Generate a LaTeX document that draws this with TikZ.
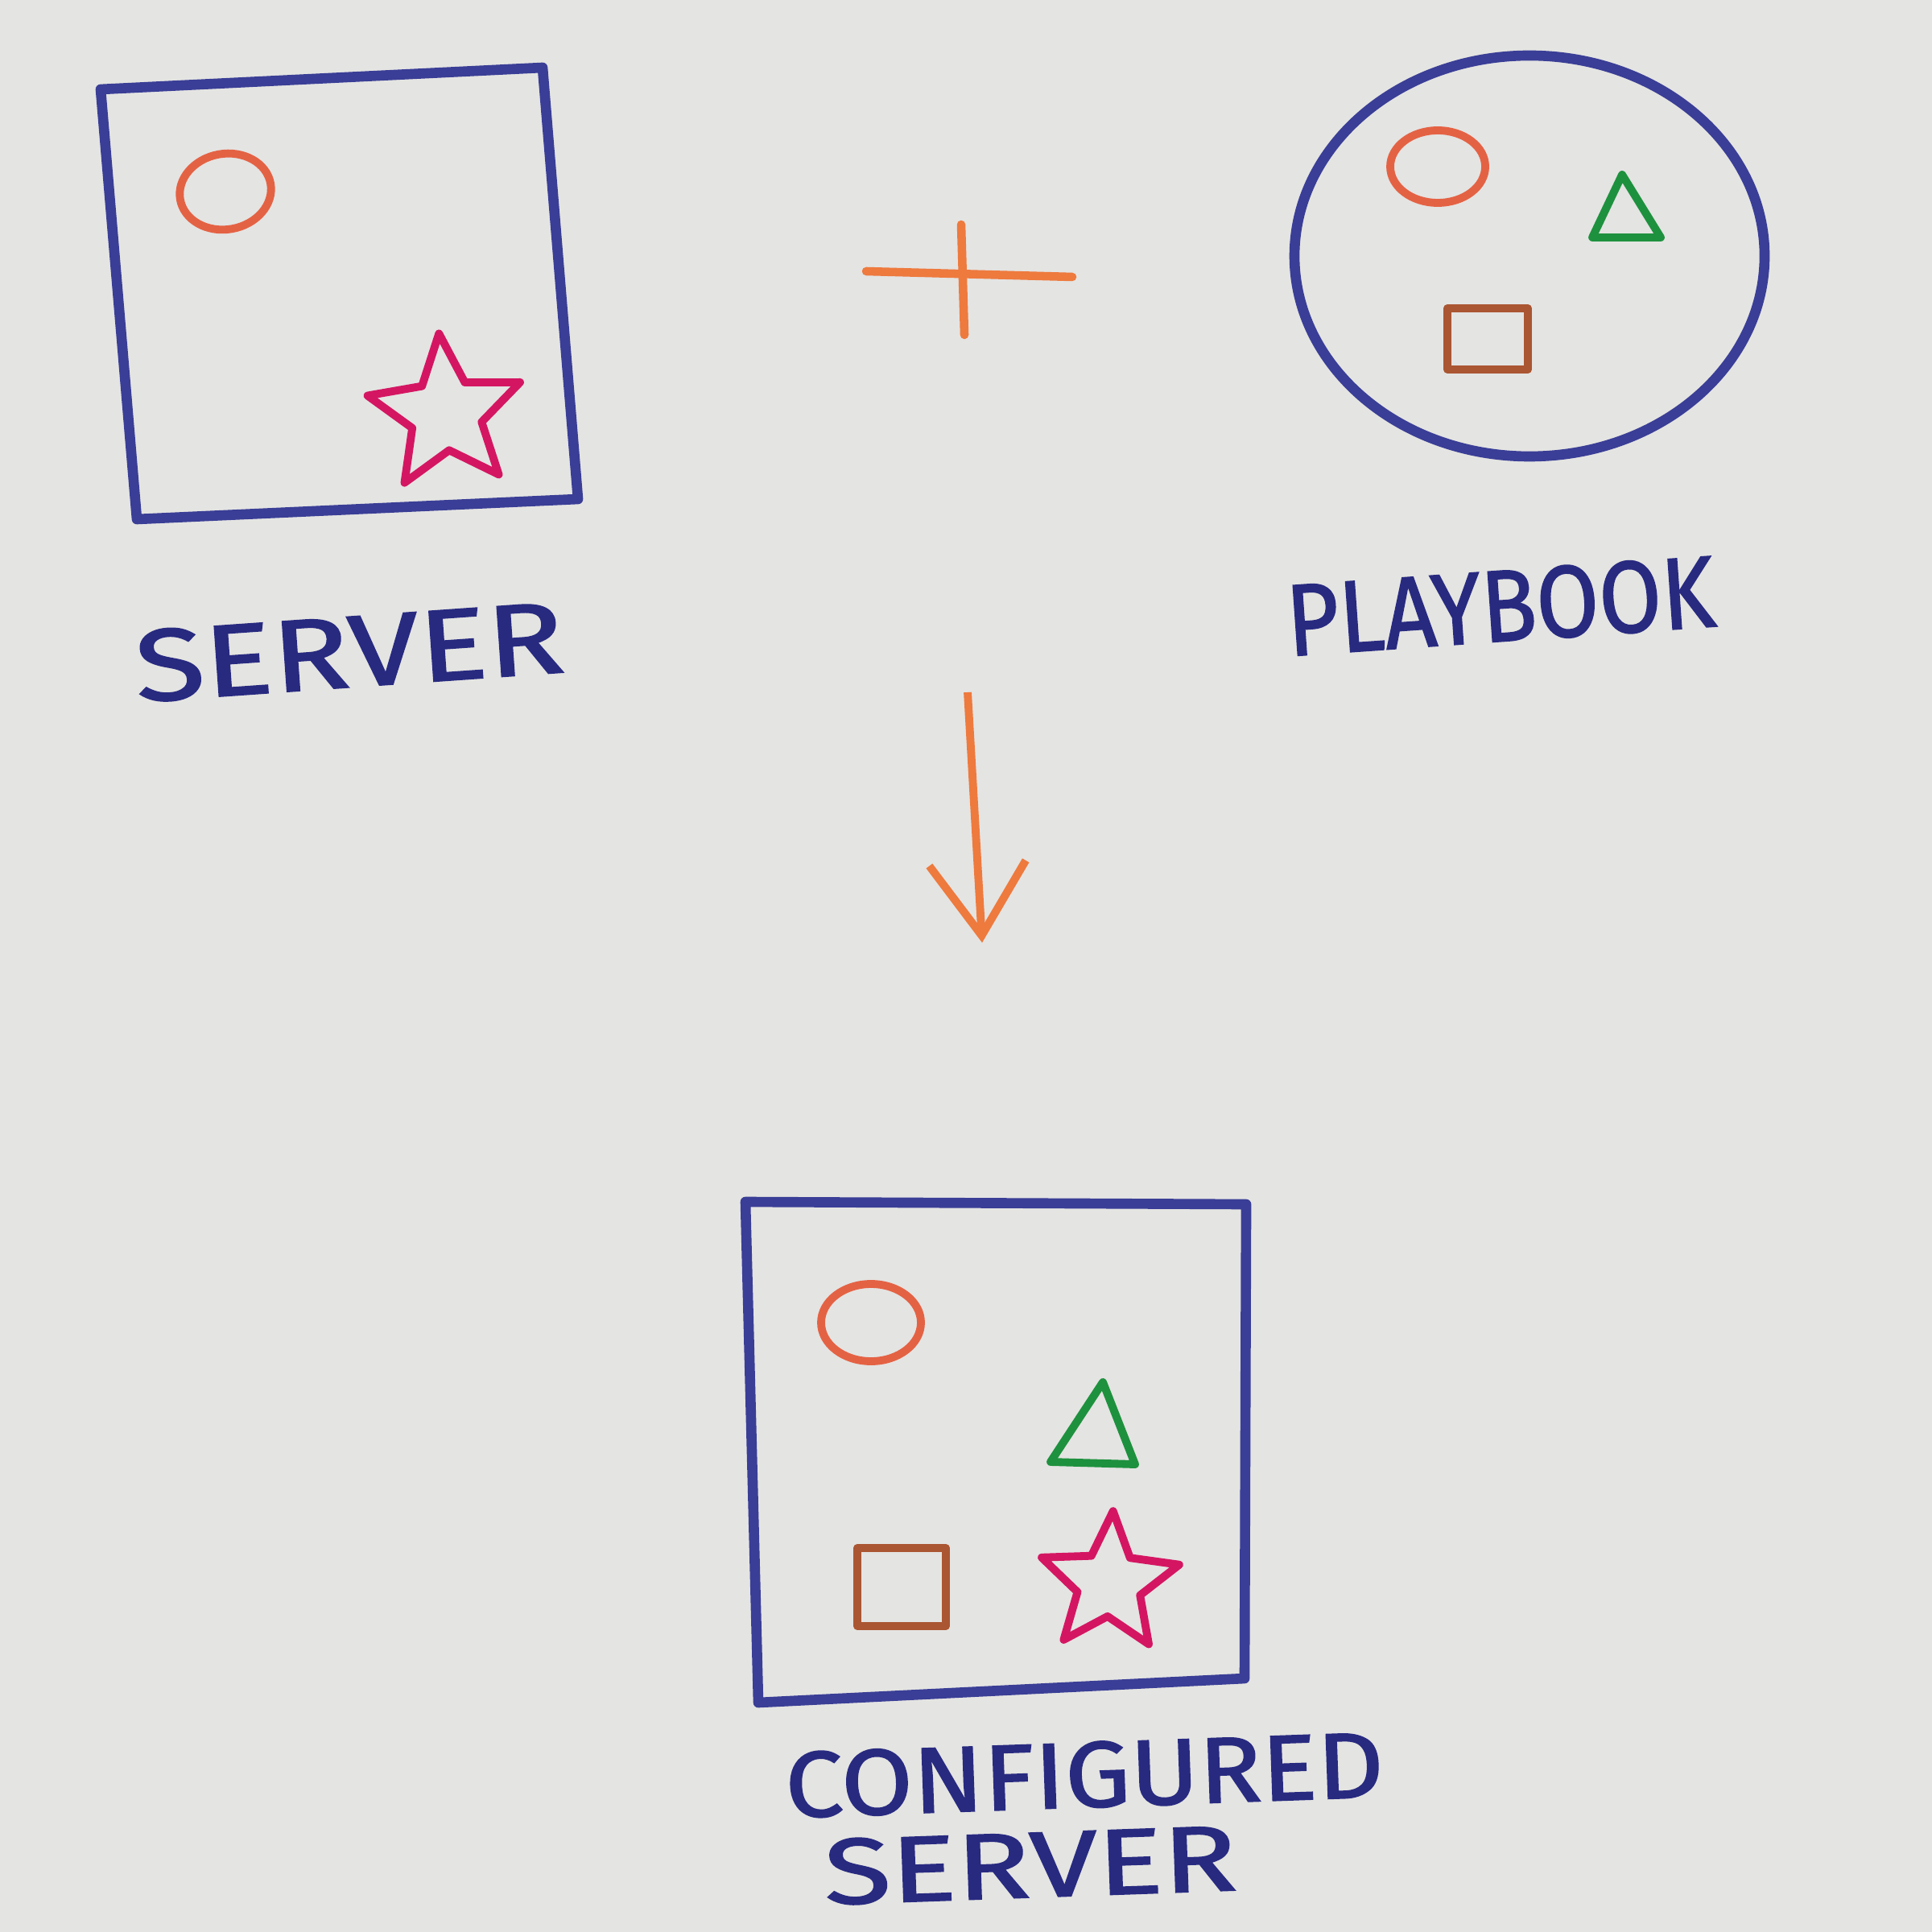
\documentclass[tikz,border=0pt]{standalone}
\usepackage{fontspec}
\usepackage{tikz}
\usetikzlibrary{arrows.meta,shapes.geometric}
\newfontfamily\handfont[FakeBold=1.4]{Fira Sans}
\definecolor{paper}{RGB}{228,228,226}
\definecolor{penblue}{RGB}{58,62,150}
\definecolor{inkblue}{RGB}{40,42,128}
\definecolor{mkorange}{RGB}{228,98,68}
\definecolor{mkplus}{RGB}{238,122,62}
\definecolor{mkpink}{RGB}{212,22,98}
\definecolor{mkgreen}{RGB}{30,145,62}
\definecolor{mkbrown}{RGB}{170,86,50}
\tikzset{
  boxpen/.style={draw=penblue,line width=3.6pt,line join=round,line cap=round},
  marker/.style={line width=2.8pt,line join=round,line cap=round},
  handtext/.style={text=inkblue,font=\handfont\fontsize{36}{36}\selectfont,inner sep=0pt},
  smalltext/.style={handtext,font=\handfont\fontsize{33}{33}\selectfont},
  hstar/.style={star,star points=5,star point ratio=2.2,draw=mkpink,marker,inner sep=0pt,minimum size=#1},
}

\begin{document}
\begin{tikzpicture}[x=1cm,y=-1cm]
\fill[paper] (0,0) rectangle (24,24);
\useasboundingbox (0,0) rectangle (24,24);
% Server
\draw[boxpen] (1.25,1.11) -- (6.74,0.84) -- (7.18,6.20) -- (1.70,6.45) -- cycle;
\draw[mkorange,marker,rotate around={10:(2.80,2.38)}] (2.80,2.38) ellipse (0.57 and 0.47);
\node[hstar=2cm,rotate=5] (srvstar) at (5.54,5.14) {};
\node[handtext,rotate=4,xscale=1.25] (srvlabel) at (4.34,8.10) {SERVER};
% Plus
\draw[mkplus,marker,line width=3pt] (10.76,3.37) -- (13.32,3.44);
\draw[mkplus,marker,line width=3pt] (11.94,2.79) -- (11.98,4.16);
% Playbook
\draw[boxpen] (19.00,3.18) ellipse (2.92 and 2.49);
\draw[mkorange,marker] (17.86,2.07) ellipse (0.59 and 0.45);
\draw[mkgreen,marker] (20.15,2.17) -- (19.78,2.95) -- (20.63,2.95) -- cycle;
\draw[mkbrown,marker] (17.98,3.83) rectangle (18.98,4.59);
\node[handtext,rotate=4,xscale=0.89] (pblabel) at (18.64,7.53) {PLAYBOOK};
% Arrow
\coordinate (arrtop) at (12.02,8.60);
\coordinate (arrtip) at (12.20,11.71);
\draw[mkplus,line width=2.8pt,-{Straight Barb[length=9mm,width=12mm]}] (arrtop) -- (arrtip);
% Configured server
\draw[boxpen] (9.26,14.93) -- (15.48,14.96) -- (15.46,20.85) -- (9.42,21.15) -- cycle;
\draw[mkorange,marker] (10.82,16.43) ellipse (0.62 and 0.48);
\draw[mkgreen,marker] (13.70,17.17) -- (13.05,18.16) -- (14.10,18.19) -- cycle;
\draw[mkbrown,marker] (10.65,19.23) rectangle (11.75,20.20);
\node[hstar=1.8cm,rotate=-3] (cfgstar) at (13.78,19.67) {};
\node[smalltext,rotate=2,xscale=1.11] (cfglabel) at (13.47,22.05) {CONFIGURED};
\node[smalltext,rotate=2,xscale=1.31] (cfgsrvlabel) at (12.80,23.17) {SERVER};
\end{tikzpicture}
\end{document}
